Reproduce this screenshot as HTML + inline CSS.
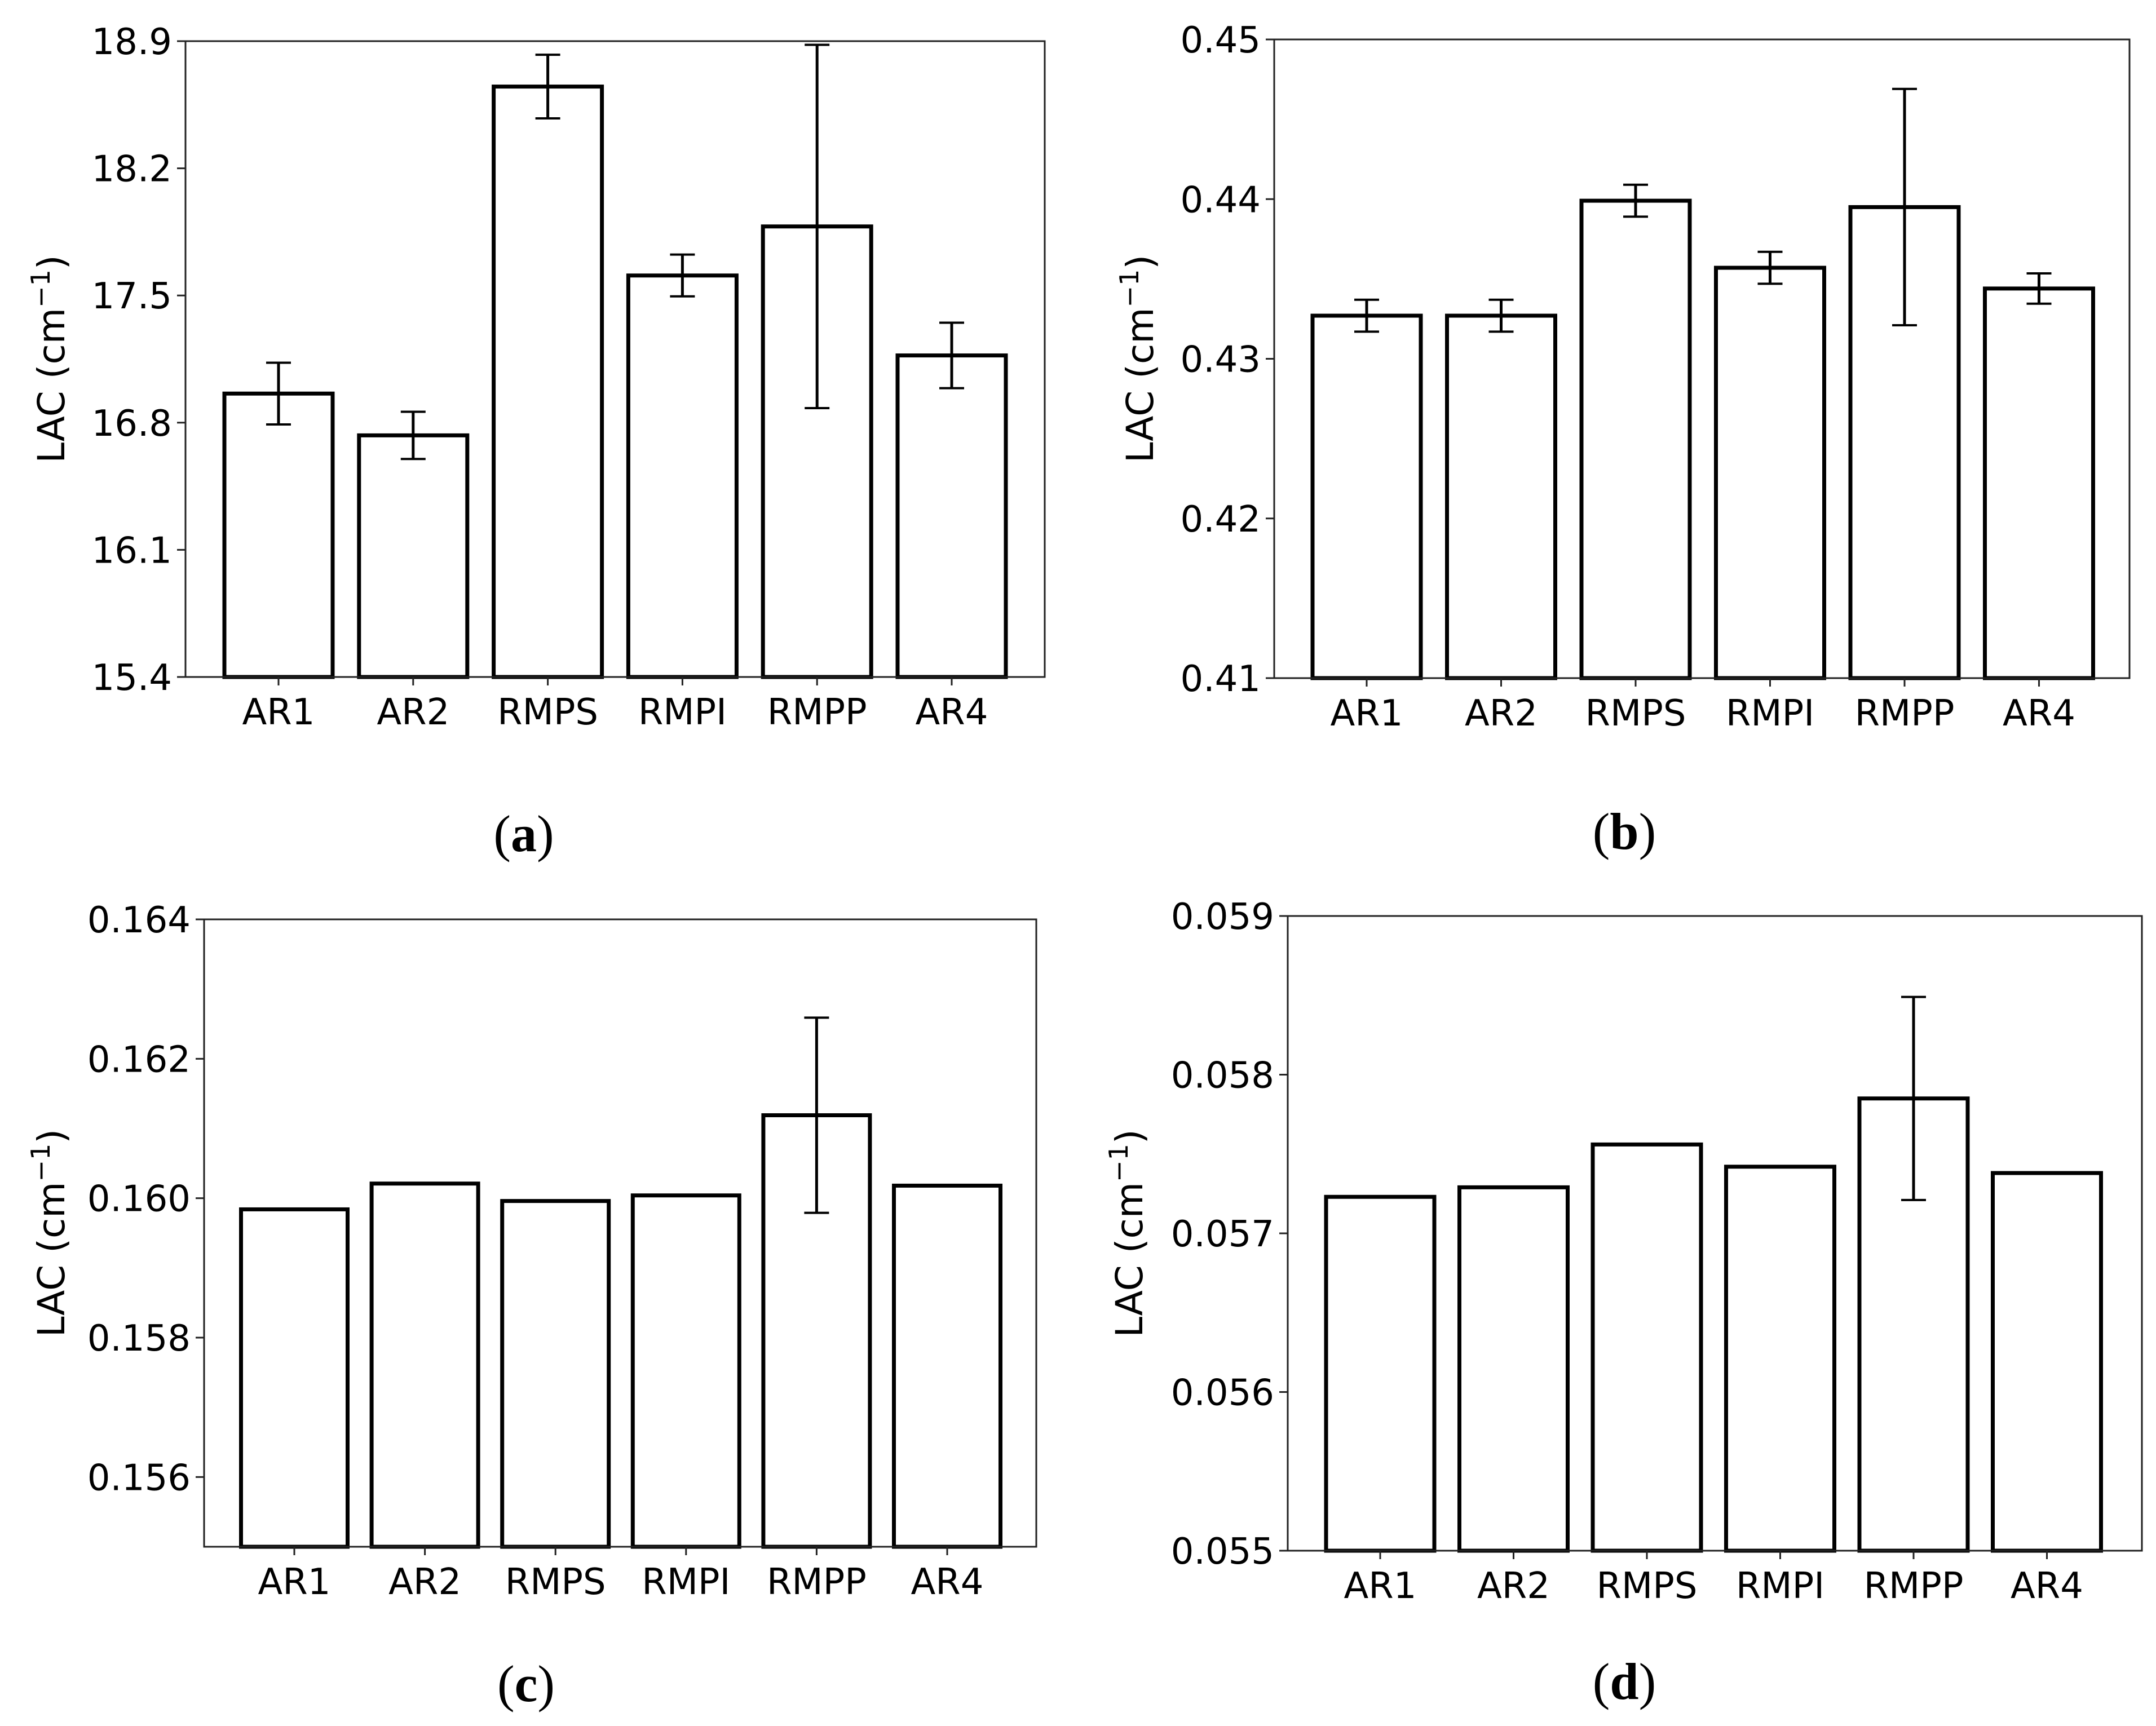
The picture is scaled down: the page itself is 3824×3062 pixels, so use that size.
<!DOCTYPE html>
<html><head><meta charset="utf-8"><style>
html,body{margin:0;padding:0;background:#fff;}
svg{display:block;}
text{font-family:"DejaVu Sans","Liberation Sans",sans-serif;fill:#000;}
.pl{font-family:"Liberation Serif",serif;}
</style></head><body>
<svg id="fig" width="3824" height="3062" viewBox="0 0 3824 3062" xmlns="http://www.w3.org/2000/svg"></svg>
<script>
const categories = ["AR1","AR2","RMPS","RMPI","RMPP","AR4"];
const valuesA = [16.96,16.73,18.65,17.61,17.88,17.17];
const errorsA = [0.17,0.13,0.175,0.115,1.0,0.18];
const ticksA = ["15.4","16.1","16.8","17.5","18.2","18.9"];
const valuesB = [0.4327,0.4327,0.4399,0.4357,0.4395,0.4344];
const errorsB = [0.001,0.001,0.001,0.001,0.0074,0.00095];
const ticksB = ["0.41","0.42","0.43","0.44","0.45"];
const valuesC = [0.15984,0.16021,0.15996,0.16004,0.16119,0.16018];
const errorsC = [0,0,0,0,0.0014,0];
const ticksC = ["0.156","0.158","0.160","0.162","0.164"];
const valuesD = [0.05723,0.05729,0.05756,0.05742,0.05785,0.05738];
const errorsD = [0,0,0,0,0.00064,0];
const ticksD = ["0.055","0.056","0.057","0.058","0.059"];

const NS="http://www.w3.org/2000/svg";
const svg=document.getElementById('fig');
function mk(tag,attrs,parent,txt){const e=document.createElementNS(NS,tag);for(const k in attrs)e.setAttribute(k,attrs[k]);if(txt!==undefined)e.textContent=txt;parent.appendChild(e);return e;}

const panels=[
 {id:'a',vals:valuesA,errs:errorsA,ticks:ticksA,ymin:15.4,ymax:18.9,L:329,R:1853,T:73,B:1201,x0:494,pitch:238.8,bw:192,ylx:91,lx:929,ly:1510},
 {id:'b',vals:valuesB,errs:errorsB,ticks:ticksB,ymin:0.41,ymax:0.45,L:2260,R:3777,T:70,B:1203,x0:2424,pitch:238.5,bw:192,ylx:2022,lx:2881,ly:1506},
 {id:'c',vals:valuesC,errs:errorsC,ticks:ticksC,ymin:0.155,ymax:0.164,L:362,R:1838,T:1631,B:2744,x0:522,pitch:231.6,bw:189,ylx:91,lx:933,ly:3018},
 {id:'d',vals:valuesD,errs:errorsD,ticks:ticksD,ymin:0.055,ymax:0.059,L:2284,R:3799,T:1625,B:2751,x0:2448,pitch:236.5,bw:192,ylx:2003,lx:2881,ly:3014}
];

panels.forEach(p=>{
  const g=mk('g',{},svg);
  
  
  const y=v=>p.B-(v-p.ymin)/(p.ymax-p.ymin)*(p.B-p.T);
  const x=i=>p.x0+i*p.pitch;
  p.vals.forEach((v,i)=>{
    const r=mk('rect',{x:x(i)-p.bw/2,y:y(v),width:p.bw,height:p.B-y(v),fill:'#fff',stroke:'#000','stroke-width':7},g);
    
    
  });
  p.vals.forEach((v,i)=>{
    const e=p.errs[i]; if(!e) return;
    const eg=mk('g',{stroke:'#000','stroke-width':5},g);
    
    
    const cx=x(i);
    mk('line',{x1:cx,x2:cx,y1:y(v+e),y2:y(v-e)},eg);
    mk('line',{x1:cx-22,x2:cx+22,y1:y(v+e),y2:y(v+e),'stroke-width':4},eg);
    mk('line',{x1:cx-22,x2:cx+22,y1:y(v-e),y2:y(v-e),'stroke-width':4},eg);
  });
  const fr=mk('rect',{x:p.L,y:p.T,width:p.R-p.L,height:p.B-p.T,fill:'none',stroke:'#222','stroke-width':3},g);
  
  
  p.ticks.forEach(t=>{
    const yy=y(parseFloat(t));
    mk('line',{x1:p.L-15,x2:p.L,y1:yy,y2:yy,stroke:'#222','stroke-width':3},g);
    const tx=mk('text',{x:p.L-24,y:yy+23,'text-anchor':'end','font-size':64},g,t);
    
    
  });
  categories.forEach((c,i)=>{
    mk('line',{x1:x(i),x2:x(i),y1:p.B,y2:p.B+15,stroke:'#222','stroke-width':3},g);
    const tx=mk('text',{x:x(i),y:p.B+84,'text-anchor':'middle','font-size':64},g,c);
    
    
  });
  const cy=(p.T+p.B)/2;
  const yl=mk('text',{x:0,y:0,'text-anchor':'middle','font-size':66,transform:`translate(${p.ylx+23},${cy}) rotate(-90)`},g);
  
  
  yl.appendChild(document.createTextNode('LAC (cm'));
  mk('tspan',{dy:-26,'font-size':46},yl,'\u22121');
  mk('tspan',{dy:26},yl,')');
  const pl=mk('text',{x:p.lx,y:p.ly,'text-anchor':'middle','font-size':92,class:'pl'},g);
  
  
  pl.appendChild(document.createTextNode('('));
  mk('tspan',{'font-weight':'bold'},pl,p.id);
  pl.appendChild(document.createTextNode(')'));
});
</script>
</body></html>
